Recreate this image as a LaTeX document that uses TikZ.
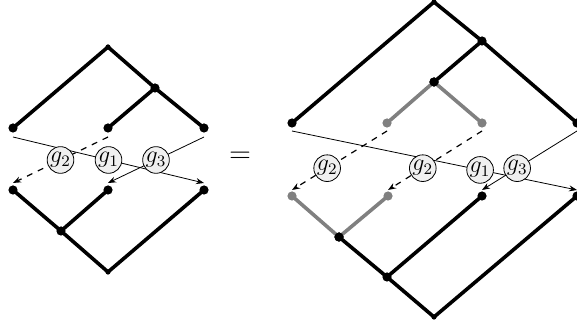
\documentclass[tikz,border=0pt]{standalone}
\usetikzlibrary{arrows.meta}

\begin{document}
\begin{tikzpicture}[x=0.5pt, y=-0.5pt,
		dot/.style={circle, fill=black, inner sep=0pt, minimum size=4.6pt},
		gdot/.style={dot, fill=gray},
		rootdot/.style={circle, fill=black, inner sep=0pt, minimum size=2.6pt},
		edge/.style={line width=1.8pt},
		gedge/.style={edge, gray},
		move/.style={-{Stealth[length=4pt,width=3pt]}, thin},
		dmove/.style={move, dashed, semithick},
		glabel/.style={circle, draw, solid, thin, fill=gray!12, inner sep=0.2pt, font=\large}]
				\useasboundingbox (0,0) rectangle (577,330);
				
				% Left side: upper tree
				\node[rootdot] (r1) at (108,47) {};
				\node[dot] (a1) at (155,88) {};
				\node[dot] (l1) at (13,128) {};
				\node[dot] (l2) at (108,128) {};
				\node[dot] (l3) at (204,128) {};
				\draw[edge] (l1.center) -- (r1.center) -- (a1.center) -- (l3.center);
				\draw[edge] (a1.center) -- (l2.center);
				
				% Left side: lower tree
				\node[rootdot] (r2) at (108,272) {};
				\node[dot] (a2) at (61,231) {};
				\node[dot] (m1) at (13,190) {};
				\node[dot] (m2) at (108,190) {};
				\node[dot] (m3) at (204,190) {};
				\draw[edge] (m1.center) -- (a2.center) -- (r2.center) -- (m3.center);
				\draw[edge] (a2.center) -- (m2.center);
				
				% Left side: the maps between leaves
				\draw[move] ([yshift=-4.5pt]l1.center) -- ([yshift=3.5pt]m3.center) node[glabel, pos=.5] {$g_1$};
				\draw[dmove] ([yshift=-4.5pt]l2.center) -- ([yshift=3.5pt]m1.center) node[glabel, pos=.5] {$g_2$};
				\draw[move] ([yshift=-4.5pt]l3.center) -- ([yshift=3.5pt]m2.center) node[glabel, pos=.5] {$g_3$};
				
				% Equals sign
				\node[font=\Large] (eq) at (240,157) {$=$};
				
				% Right side: upper tree
				\node[rootdot] (R1) at (434,2) {};
				\node[dot] (B1) at (482,41) {};
				\node[dot] (C1) at (434,82) {};
				\node[dot] (p1) at (292,123) {};
				\node[gdot] (p2) at (387,123) {};
				\node[gdot] (p3) at (482,123) {};
				\node[dot] (p4) at (577,123) {};
				\draw[gedge] (p2.center) -- (C1.center) -- (p3.center);
				\draw[edge] (p1.center) -- (R1.center) -- (B1.center) -- (p4.center);
				\draw[edge] (B1.center) -- (C1.center);
				\node[dot] at (C1) {};
				
				% Right side: lower tree
				\node[rootdot] (R2) at (434,317) {};
				\node[dot] (B2) at (387,277) {};
				\node[dot] (C2) at (339,237) {};
				\node[gdot] (q1) at (292,196) {};
				\node[gdot] (q2) at (388,196) {};
				\node[dot] (q3) at (482,196) {};
				\node[dot] (q4) at (577,196) {};
				\draw[gedge] (q1.center) -- (C2.center) -- (q2.center);
				\draw[edge] (C2.center) -- (B2.center) -- (R2.center) -- (q4.center);
				\draw[edge] (B2.center) -- (q3.center);
				\node[dot] at (C2) {};
				
				% Right side: the maps between leaves
				\draw[move] ([yshift=-4pt]p1.center) -- ([yshift=3pt]q4.center) node[glabel, pos=.66] {$g_1$};
				\draw[dmove] ([yshift=-4pt]p2.center) -- ([yshift=3pt]q1.center) node[glabel, pos=.63] {$g_2$};
				\draw[dmove] ([yshift=-4pt]p3.center) -- ([yshift=3pt]q2.center) node[glabel, pos=.63] {$g_2$};
				\draw[move] ([yshift=-4pt]p4.center) -- ([yshift=3pt]q3.center) node[glabel, pos=.63] {$g_3$};
\end{tikzpicture}
\end{document}
